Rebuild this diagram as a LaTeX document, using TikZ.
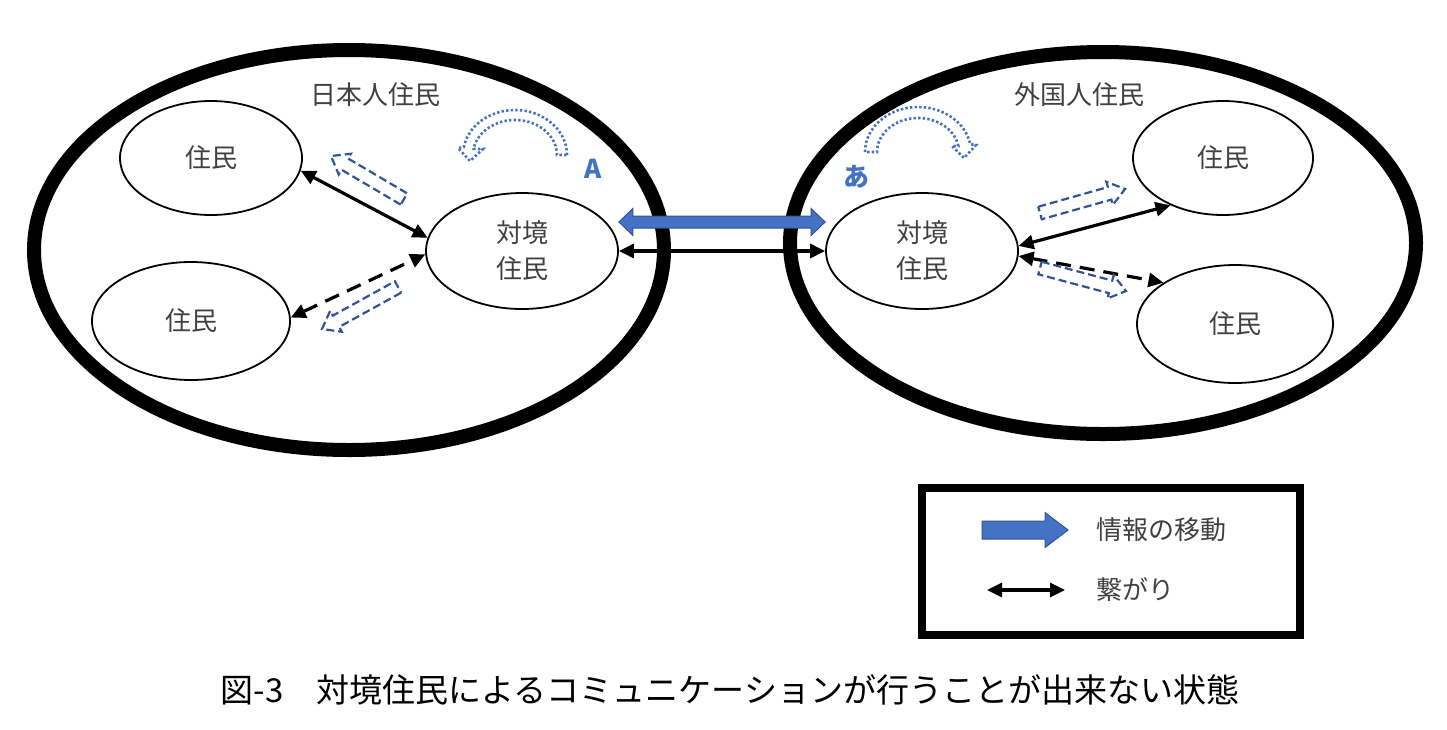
\documentclass[tikz,border=0pt]{standalone}
\usepackage{fontspec}
\setmainfont{Noto Sans CJK JP}
\usetikzlibrary{shapes.geometric,arrows.meta,calc}
\definecolor{offblue}{RGB}{68,114,196}
\definecolor{edgeblue}{RGB}{47,85,151}
\definecolor{txtgray}{RGB}{64,64,64}
\newcommand\myblockarr[6]{%
  \path ($(#3)!#6!(#2)$) coordinate (myn);
  \draw[#1] ($(#2)!#4!90:(#3)$) -- ($(myn)!#4!90:(#3)$) -- ($(myn)!#5!90:(#3)$) -- (#3)
    -- ($(myn)!#5!-90:(#3)$) -- ($(myn)!#4!-90:(#3)$) -- ($(#2)!#4!-90:(#3)$) -- cycle;}
\newcommand\mydblarr[6]{%
  \path ($(#2)!#6!(#3)$) coordinate (myna) ($(#3)!#6!(#2)$) coordinate (mynb);
  \draw[#1] (#2) -- ($(myna)!#5!90:(#3)$) -- ($(myna)!#4!90:(#3)$) -- ($(mynb)!#4!-90:(#2)$)
    -- ($(mynb)!#5!-90:(#2)$) -- (#3) -- ($(mynb)!#5!90:(#2)$) -- ($(mynb)!#4!90:(#2)$)
    -- ($(myna)!#4!-90:(#3)$) -- ($(myna)!#5!-90:(#3)$) -- cycle;}
\tikzset{
  bigell/.style={ellipse,draw,line width=14pt,inner sep=0pt},
  resell/.style={ellipse,draw,line width=1.8pt,inner sep=0pt,text=txtgray,
    font=\fontsize{26}{36}\selectfont,align=center},
  grouplbl/.style={text=txtgray,font=\fontsize{26}{30}\selectfont},
  conn/.style={line width=3.2pt,{Triangle[length=15pt,width=14pt]}-{Triangle[length=15pt,width=14pt]}},
  dconn/.style={conn,dash pattern=on 15pt off 9pt},
  hollow/.style={draw=edgeblue,line width=2.2pt,dash pattern=on 8pt off 4pt,line join=miter},
  dotblue/.style={draw=offblue,line width=2.6pt,dash pattern=on 2.4pt off 2.2pt},
  bluefill/.style={fill=offblue,draw=edgeblue,line width=1pt},
  bluelbl/.style={text=offblue,font=\fontsize{26}{30}\selectfont\bfseries}
}
\begin{document}
\begin{tikzpicture}[x=1pt,y=-1pt]
\useasboundingbox (0,0) rectangle (1447,729);
% big groups
\node[bigell,minimum width=630pt,minimum height=400pt] (JP) at (349,250) {};
\node[bigell,minimum width=626pt,minimum height=382pt] (FR) at (1103,243) {};
\node[grouplbl] (JPl) at (375,95) {日本人住民};
\node[grouplbl] (FRl) at (1079,95) {外国人住民};
% residents
\node[resell,minimum width=182pt,minimum height=114pt] (L1) at (211,158) {住民};
\node[resell,minimum width=198pt,minimum height=118pt] (L2) at (191,321) {住民};
\node[resell,minimum width=192pt,minimum height=116pt] (LC) at (522,251) {対境\\住民};
\node[resell,minimum width=192pt,minimum height=116pt] (RC) at (922,251) {対境\\住民};
\node[resell,minimum width=180pt,minimum height=114pt] (R1) at (1223,158) {住民};
\node[resell,minimum width=196pt,minimum height=118pt] (R2) at (1235,324) {住民};
\node[bluelbl] (lA) at (593,169) {A};
\node[bluelbl] (lJ) at (856,177) {あ};
% connections
\draw[conn] (L1.-8) -- (LC.172);
\draw[dconn] (L2.2) -- (LC.182);
\draw[conn] (RC.3) -- (R1.222);
\draw[dconn] (RC.-3) -- (R2.150);
\draw[conn] (LC.east) -- (RC.west);
\coordinate (ba) at ($(LC.east)+(0,-29)$);
\coordinate (bb) at ($(RC.west)+(0,-29)$);
\mydblarr{bluefill}{ba}{bb}{6pt}{13.5pt}{14pt}
% hollow information arrows
\coordinate (h1t) at (404,199); \coordinate (h1h) at (331,156);
\coordinate (h2t) at (398,287); \coordinate (h2h) at (322,329);
\coordinate (h3t) at (1040,213); \coordinate (h3h) at (1125,189);
\coordinate (h4t) at (1040,268); \coordinate (h4h) at (1126,291);
\myblockarr{hollow}{h1t}{h1h}{6.5pt}{12pt}{16pt}
\myblockarr{hollow}{h2t}{h2h}{6.5pt}{12pt}{16pt}
\myblockarr{hollow}{h3t}{h3h}{6.5pt}{12pt}{16pt}
\myblockarr{hollow}{h4t}{h4h}{6.5pt}{12pt}{16pt}
% curved dotted arrows
\draw[dotblue] (567,155) arc[start angle=0,end angle=-170,x radius=52,y radius=45]
  -- (458,148) -- (470,161) -- (483,149) -- (473.6,148.9)
  arc[start angle=-170,end angle=0,x radius=42,y radius=35] -- cycle;
\draw[dotblue] (865,152) arc[start angle=-180,end angle=-10,x radius=53,y radius=45]
  -- (976,145) -- (964,158) -- (952,146) -- (958.4,146.1)
  arc[start angle=-10,end angle=-180,x radius=41,y radius=34] -- cycle;
% legend
\node[draw,line width=8pt,minimum width=378pt,minimum height=147pt,inner sep=0pt] (leg) at (1111,561) {};
\coordinate (g1a) at (982,530); \coordinate (g1b) at (1068,530);
\myblockarr{bluefill}{g1a}{g1b}{9pt}{17.5pt}{23pt}
\coordinate (g2a) at (987,590); \coordinate (g2b) at (1065,590);
\draw[conn] (g2a) -- (g2b);
\node[grouplbl,anchor=west] (t1) at (1093,530) {情報の移動};
\node[grouplbl,anchor=west] (t2) at (1093,590) {繋がり};
% caption
\node[font=\fontsize{33}{36}\selectfont] (cap) at (730,690) {図-3\hspace{1em}対境住民によるコミュニケーションが行うことが出来ない状態};
\end{tikzpicture}
\end{document}
